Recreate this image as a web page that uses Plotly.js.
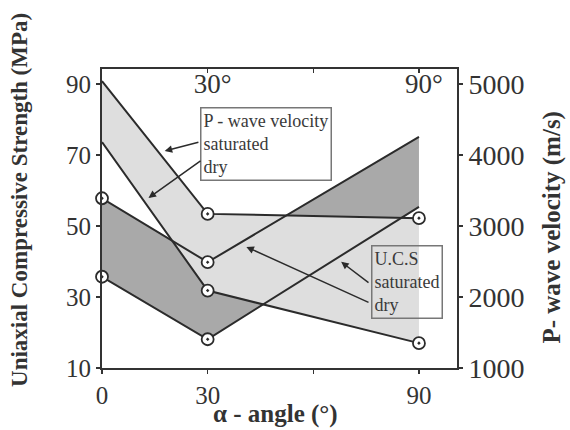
<!DOCTYPE html>
<html>
<head>
<meta charset="utf-8">
<script src="https://cdn.plot.ly/plotly-3.0.1.min.js"></script>
<style>html,body{margin:0;padding:0;background:#fff}</style>
</head>
<body>
<div id="chart" style="width:570px;height:430px"></div>
<script>
// Bedding angle of the specimens (degrees)
const angles = [0, 30, 90];

// P-wave velocity (m/s)
const pWaveSaturated = [5040, 3170, 3110];
const pWaveDry = [4180, 2090, 1350];

// Uniaxial compressive strength (MPa)
const ucsDry = [57.8, 39.8, 75.1];
const ucsSaturated = [35.7, 18.1, 55.4];

// Axis ticks
const ucsTicks = [10, 30, 50, 70, 90];
const velocityTicks = [1000, 2000, 3000, 4000, 5000];
const angleTicks = [0, 30, 60, 90];
const angleTickLabels = ['0', '30', '', '90'];
const topTicks = [30, 60, 90];
const topTickLabels = ['30°', '', '90°'];

// Which measured points carry a circle marker
const circled = {
  pSat: [30, 90],
  pDry: [30, 90],
  ucsDry: [0, 30],
  ucsSat: [0, 30]
};

const SERIF = 'Liberation Serif, Times New Roman, serif';
const INK = '#2b2b2b';
const LIGHT = '#dedede';
const DARK = '#a9a9a9';

const X_RANGE = [0, 100.8];
const UCS_RANGE = [10, 94.2];
const VEL_RANGE = [1000, 5210];

function band(y, xaxis, yaxis, fillcolor) {
  return {
    x: angles, y: y, xaxis: xaxis, yaxis: yaxis, type: 'scatter', mode: 'lines',
    line: {width: 0}, fill: fillcolor ? 'tonexty' : 'none',
    fillcolor: fillcolor, hoverinfo: 'skip', showlegend: false
  };
}

function series(y, xaxis, yaxis, marked) {
  return {
    x: angles, y: y, xaxis: xaxis, yaxis: yaxis, type: 'scatter', mode: 'lines+markers',
    line: {color: INK, width: 2},
    marker: {
      symbol: 'circle-dot', size: 12, color: '#ffffff',
      line: {color: INK, width: 1.8},
      opacity: angles.map(a => marked.includes(a) ? 1 : 0)
    },
    cliponaxis: false, showlegend: false
  };
}

const data = [
  // shaded bands: UCS (dark) underneath, P-wave (light) on top
  band(ucsDry, 'x', 'y', null),
  band(ucsSaturated, 'x', 'y', DARK),
  band(pWaveSaturated, 'x', 'y2', null),
  band(pWaveDry, 'x', 'y2', LIGHT),
  // outlines with markers above both bands
  series(ucsDry, 'x', 'y3', circled.ucsDry),
  series(ucsSaturated, 'x', 'y3', circled.ucsSat),
  series(pWaveSaturated, 'x2', 'y4', circled.pSat),
  series(pWaveDry, 'x2', 'y4', circled.pDry)
];

const boxFont = {family: SERIF, size: 18, color: '#3a3a3a'};
const tickStyle = {ticklen: 4, tickwidth: 1.5, tickcolor: '#333', showgrid: false, zeroline: false};

function arrow(tipX, tipY, tailX, tailY) {
  return {
    x: tipX, y: tipY, xref: 'x', yref: 'y',
    ax: tailX, ay: tailY, axref: 'x', ayref: 'y',
    text: '', showarrow: true, arrowhead: 2, arrowsize: 1,
    arrowwidth: 1.5, arrowcolor: INK, standoff: 0
  };
}

const layout = {
  width: 570, height: 430,
  margin: {l: 102, r: 113, t: 69, b: 62},
  paper_bgcolor: '#ffffff', plot_bgcolor: '#ffffff',
  showlegend: false,
  xaxis: Object.assign({
    range: X_RANGE, tickvals: angleTicks, ticktext: angleTickLabels,
    ticks: 'outside', showline: true, mirror: true, linecolor: '#333', linewidth: 2,
    tickfont: {family: SERIF, size: 25, color: '#333'}
  }, tickStyle),
  xaxis2: Object.assign({
    overlaying: 'x', side: 'top', anchor: 'y', range: X_RANGE,
    tickvals: topTicks, ticktext: topTickLabels,
    ticks: 'inside', ticklabelposition: 'inside', showline: false,
    ticklabelshift: 5, ticklabelstandoff: 4,
    tickfont: {family: SERIF, size: 27, color: '#333'}
  }, tickStyle),
  yaxis: Object.assign({
    range: UCS_RANGE, tickvals: ucsTicks,
    ticks: 'outside', showline: true, linecolor: '#333', linewidth: 2,
    tickfont: {family: SERIF, size: 25, color: '#333'}
  }, tickStyle),
  yaxis2: Object.assign({
    overlaying: 'y', side: 'right', anchor: 'x', range: VEL_RANGE,
    tickvals: velocityTicks,
    ticks: 'outside', showline: true, linecolor: '#333', linewidth: 2,
    tickfont: {family: SERIF, size: 28, color: '#333'}
  }, tickStyle),
  yaxis3: {overlaying: 'y', range: UCS_RANGE, visible: false},
  yaxis4: {overlaying: 'y', range: VEL_RANGE, visible: false},
  annotations: [
    // axis titles
    {
      x: -0.231, y: 0.562, xref: 'paper', yref: 'paper',
      xanchor: 'center', yanchor: 'middle', textangle: -90,
      text: 'Uniaxial Compressive Strength (MPa)', showarrow: false,
      font: {family: SERIF, size: 23, color: '#333', weight: 'bold'}
    },
    {
      x: 1.268, y: 0.47, xref: 'paper', yref: 'paper',
      xanchor: 'center', yanchor: 'middle', textangle: -90,
      text: 'P- wave velocity (m/s)', showarrow: false,
      font: {family: SERIF, size: 25, color: '#333', weight: 'bold'}
    },
    {
      x: 0.49, y: -0.207, xref: 'paper', yref: 'paper',
      xanchor: 'center', yanchor: 'bottom',
      text: 'α - angle (°)', showarrow: false,
      font: {family: SERIF, size: 25, color: '#333', weight: 'bold'}
    },
    // key boxes
    {
      x: 0.463, y: 0.749, xref: 'paper', yref: 'paper',
      xanchor: 'center', yanchor: 'middle', align: 'left',
      text: 'P - wave velocity<br>saturated<br>dry',
      showarrow: false, font: boxFont,
      bgcolor: '#ffffff', bordercolor: '#777', borderwidth: 1.5, borderpad: 2
    },
    {
      x: 0.858, y: 0.286, xref: 'paper', yref: 'paper',
      xanchor: 'center', yanchor: 'middle', align: 'left',
      text: 'U.C.S<br>saturated<br>dry',
      showarrow: false, font: boxFont,
      bordercolor: '#777', borderwidth: 1.5, borderpad: 2
    },
    arrow(17.8, 71.1, 27.8, 73.7),
    arrow(13.2, 57.9, 28.4, 68.6),
    arrow(67.9, 39.9, 76.1, 33.7),
    arrow(41.0, 44.1, 76.1, 28.3)
  ]
};

Plotly.newPlot('chart', data, layout, {displayModeBar: false, staticPlot: true});
</script>
</body>
</html>
